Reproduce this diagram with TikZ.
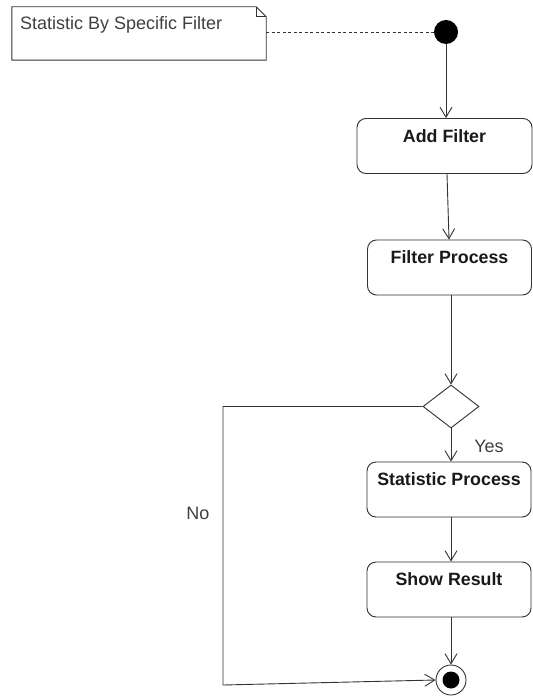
\documentclass[tikz,border=0pt]{standalone}
\usepackage{fontspec}
\setmainfont{Liberation Sans}
\usetikzlibrary{arrows.meta,shapes.geometric,backgrounds,positioning}

\begin{document}
\begin{tikzpicture}[x=1pt,y=-1pt,
    line/.style={draw=black!80, line width=.9pt},
    flow/.style={line, -{Straight Barb[length=10pt,width=12pt]}},
    shadowfill/.style={fill=black!8},
    act/.style={line, rectangle, rounded corners=9pt, fill=white,
                minimum width=164pt, minimum height=55pt, inner sep=0pt},
    acttext/.style={font=\bfseries\fontsize{17.8}{20}\selectfont, text=black!90},
    choice/.style={line, diamond, fill=white, minimum width=56pt,
                   minimum height=43pt, inner sep=0pt},
    lbl/.style={font=\fontsize{18}{20}\selectfont, text=black!75}]
  \useasboundingbox (0,0) rectangle (532,700);

  % note
  \node (note) at (139,33.5) [minimum width=254pt, minimum height=53pt, inner sep=0pt] {};
  \draw [line] (note.north west) -- ([xshift=-10pt]note.north east) -- ([yshift=-10pt]note.north east)
        -- (note.south east) -- (note.south west) -- cycle;
  \draw [line] ([xshift=-10pt]note.north east) -- ([xshift=-10pt,yshift=-10pt]note.north east)
        -- ([yshift=-10pt]note.north east);
  \node [lbl, anchor=west, inner sep=0pt] (notetext) at (20,25) {Statistic By Specific Filter};

  % start and end
  \node [circle, fill=black, minimum size=24pt, inner sep=0pt] (start) at (446,32) {};
  \node [circle, line, fill=white, minimum size=30pt, inner sep=0pt] (stop) at (451,680) {};
  \node [circle, fill=black, minimum size=17pt, inner sep=0pt] (stopdot) at (stop) {};

  % activities
  \node [act, minimum width=175pt] (add) at (444.5,146) {};
  \node [act] (filter) at (449.5,267.5) {};
  \node [choice] (dec) at (451,406.5) {};
  \node [act] (stat) at (449,489.5) {};
  \node [act] (show) at (449,589.5) {};

  \node [acttext] at ([yshift=-18pt]add.north) (addt) {Add Filter};
  \node [acttext] at ([yshift=-18pt]filter.north) (filtert) {Filter Process};
  \node [acttext] at ([yshift=-18pt]stat.north) (statt) {Statistic Process};
  \node [acttext] at ([yshift=-18pt]show.north) (showt) {Show Result};

  % shadows
  \begin{scope}[on background layer, shift={(5pt,-6pt)}]
    \foreach \step in {add,filter,stat,show}
      \fill [shadowfill, rounded corners=9pt] (\step.south west) rectangle (\step.north east);
    \fill [shadowfill] (dec.north) -- (dec.east) -- (dec.south) -- (dec.west) -- cycle;
    \fill [shadowfill] (start) circle (12pt);
    \fill [shadowfill] (stop) circle (15pt);
  \end{scope}

  % connectors
  \draw [line, dash pattern=on 3pt off 2.5pt] (note.east |- start) -- (start);
  \draw [flow] (start) -- (start |- add.north);
  \draw [flow] (add.south -| 447,0) -- (filter.north -| 449,0);
  \draw [flow] (filter.south -| dec) -- (dec.north);
  \draw [flow] (dec.south) -- (dec.south |- stat.north);
  \draw [flow] (stat.south -| dec) -- (show.north -| dec);
  \draw [flow] (show.south -| dec) -- (stop.north);
  \coordinate (nocorner) at (223,406.5);
  \coordinate (nobottom) at (223,685);
  \draw [flow] (dec.west) -- (nocorner) -- (nobottom) -- (stop.west);

  \node [lbl] (yes) at (489,446) {Yes};
  \node [lbl] (no) at (198,513) {No};
\end{tikzpicture}
\end{document}
